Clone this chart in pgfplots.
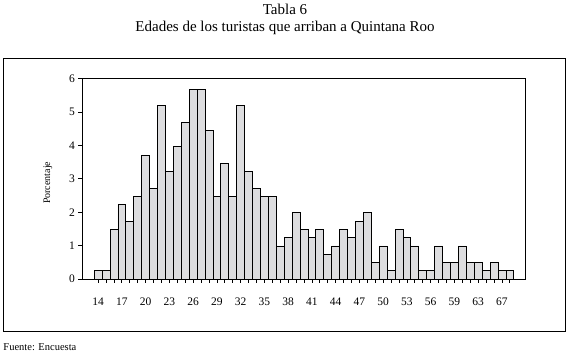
\documentclass[border=0pt]{standalone}
\usepackage{pgfplots}
\pgfplotsset{compat=1.18}
\usepackage{fontspec}
\setmainfont{Liberation Serif}
\definecolor{barfill}{RGB}{221,221,223}
\begin{document}
\begin{tikzpicture}
\path[use as bounding box] (0,0) rectangle (568bp,356bp);
\draw[line width=0.8bp] (3.3bp,25bp) rectangle (565.7bp,297.7bp);
\node[anchor=base,font=\fontsize{15bp}{16bp}\selectfont,inner sep=0pt] at (285bp,341bp) {Tabla 6};
\node[anchor=base,font=\fontsize{15bp}{16bp}\selectfont,inner sep=0pt] at (285bp,324.3bp) {Edades de los turistas que arriban a Quintana Roo};
\node[anchor=base west,font=\fontsize{10.5bp}{12bp}\selectfont,inner sep=0pt] at (3.3bp,5.3bp) {Fuente: Encuesta};
\begin{axis}[
  at={(82.3bp,77bp)}, anchor=south west,
  scale only axis, width=443.4bp, height=200.3bp,
  xmin=-2, xmax=54, ymin=0, ymax=6,
  axis line style={line width=0.8bp},
  ytick={0,1,2,3,4,5,6},
  xtick={0,...,52},
  xticklabels={14,,,17,,,20,,,23,,,26,,,29,,,32,,,35,,,38,,,41,,,44,,,47,,,50,,,53,,,56,,,59,,,63,,,67,,},
  xtick pos=bottom, ytick pos=left,
  tick align=outside,
  major tick length=4bp,
  tick style={black, line width=0.8bp},
  /pgf/number format/assume math mode=true,
  ticklabel style={font=\fontsize{11.5bp}{13bp}\selectfont},
  xticklabel style={yshift=-11bp},
  ylabel={Porcentaje},
  every axis y label/.style={at={(axis description cs:-0.0774,0.48)}, rotate=90, anchor=center, font=\fontsize{10bp}{11bp}\selectfont},
]
\addplot[ybar, bar width=1, fill=barfill, draw=black, line width=0.8bp] coordinates {
(0,0.25) (1,0.25) (2,1.49) (3,2.23) (4,1.73) (5,2.48) (6,3.71) (7,2.72) (8,5.20) (9,3.22)
(10,3.96) (11,4.70) (12,5.69) (13,5.69) (14,4.46) (15,2.48) (16,3.47) (17,2.48) (18,5.20) (19,3.22)
(20,2.72) (21,2.48) (22,2.48) (23,0.99) (24,1.24) (25,1.98) (26,1.49) (27,1.24) (28,1.49) (29,0.74)
(30,0.99) (31,1.49) (32,1.24) (33,1.73) (34,1.98) (35,0.50) (36,0.99) (37,0.25) (38,1.49) (39,1.24)
(40,0.99) (41,0.25) (42,0.25) (43,0.99) (44,0.50) (45,0.50) (46,0.99) (47,0.50) (48,0.50) (49,0.25)
(50,0.50) (51,0.25) (52,0.25)
};
\end{axis}
\end{tikzpicture}
\end{document}
